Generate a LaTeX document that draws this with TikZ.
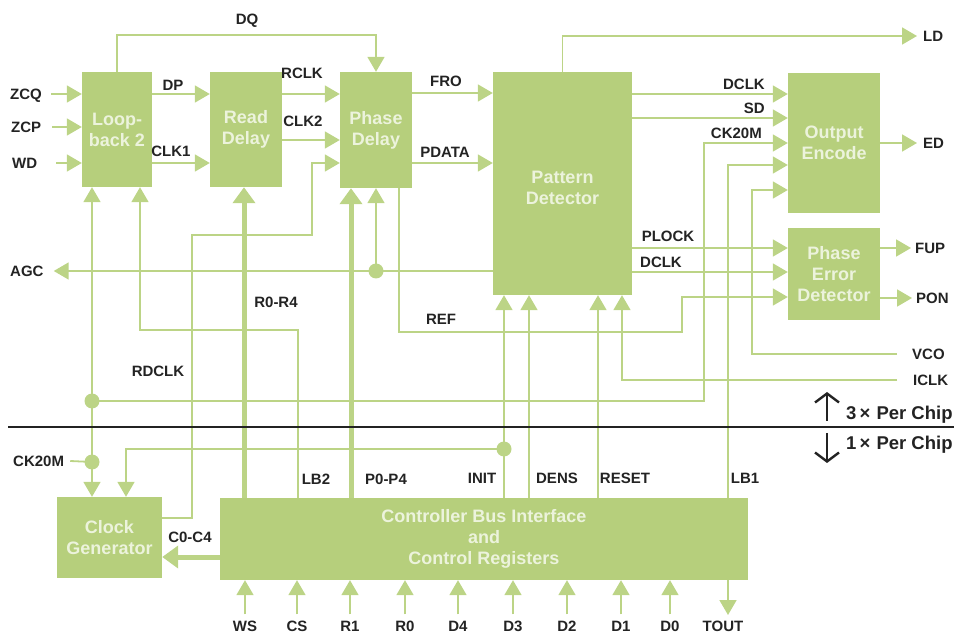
\documentclass[tikz,border=0pt]{standalone}
\usepackage{fontspec}
\setmainfont{Liberation Sans}
\usetikzlibrary{arrows.meta,calc}
\definecolor{boxg}{RGB}{182,207,124}
\definecolor{lineg}{RGB}{188,212,134}
\definecolor{boxt}{RGB}{236,243,220}
\definecolor{labt}{RGB}{35,35,35}
\begin{document}
\begin{tikzpicture}[x=1pt,y=-1pt,
  blk/.style={fill=boxg, text=boxt, font=\bfseries\fontsize{18}{21}\selectfont, align=center, inner sep=0pt},
  lbl/.style={text=labt, font=\bfseries\fontsize{15}{18}\selectfont, inner sep=0pt, text height=10.8pt, text depth=0pt},
  con/.style={draw=lineg, line width=1.8pt},
  arr/.style={con, -{Triangle[length=15pt,width=17pt]}},
  bus/.style={draw=lineg, line width=5pt, -{Triangle[length=16pt,width=22pt]}},
  dotn/.style={circle, fill=lineg, minimum size=15pt, inner sep=0pt},
  chip/.style={text=labt, font=\bfseries\fontsize{18.5}{21}\selectfont, inner sep=0pt, text height=13.2pt, text depth=0pt, anchor=west},
  bigarr/.style={draw=labt, line width=2.4pt, -{Straight Barb[length=9pt,width=24pt]}}
]
\useasboundingbox (0,0) rectangle (954,636);

% blocks
\node[blk, minimum width=70pt, minimum height=115pt] (lb) at (117,129.5) {Loop-\\back 2};
\node[blk, minimum width=72pt, minimum height=115pt] (rd) at (246,129.5) {Read\\Delay};
\node[blk, minimum width=72pt, minimum height=116pt] (pd) at (376,130) {Phase\\Delay};
\node[blk, minimum width=139pt, minimum height=223pt] (pat) at (562.5,183.5) {};
\node[blk] (patt) at (562.5,188) {Pattern\\Detector};
\node[blk, minimum width=92pt, minimum height=140pt] (oe) at (834,143) {Output\\Encode};
\node[blk, minimum width=92pt, minimum height=92pt] (ped) at (834,274) {Phase\\Error\\Detector};
\node[blk, minimum width=105pt, minimum height=81pt] (cg) at (109.5,537.5) {Clock\\Generator};
\node[blk, minimum width=528pt, minimum height=82pt] (cbi) at (484,539) {Controller Bus Interface\\and\\Control Registers};

% left inputs
\node[lbl, anchor=west] (zcq) at (10,94) {ZCQ};
\node[lbl, anchor=west] (zcp) at (11,127) {ZCP};
\node[lbl, anchor=west] (wd) at (12,163) {WD};
\draw[arr] ([xshift=9pt]zcq.east) -- (lb.west |- zcq.east);
\draw[arr] ([xshift=11pt]zcp.east) -- (lb.west |- zcp.east);
\draw[arr] ([xshift=19pt]wd.east) -- (lb.west |- wd.east);

% loop-back -> read delay
\draw[arr] (lb.east |- 0,94) -- (rd.west |- 0,94);
\node[lbl] (dp) at (173,85) {DP};
\draw[arr] (lb.east |- 0,163) -- (rd.west |- 0,163);
\node[lbl] (clk1) at (171,151) {CLK1};

% read delay -> phase delay
\draw[arr] (rd.east |- 0,94) -- (pd.west |- 0,94);
\node[lbl] (rclk) at (302,73) {RCLK};
\draw[arr] (rd.east |- 0,140) -- (pd.west |- 0,140);
\node[lbl] (clk2) at (303,121) {CLK2};

% DQ
\draw[arr] (lb.north) -- (117,35) -| (pd.north);
\node[lbl] (dq) at (247,19) {DQ};

% phase delay -> pattern detector
\draw[arr] (pd.east |- 0,93) -- (pat.west |- 0,93);
\node[lbl] (fro) at (446,81) {FRO};
\draw[arr] (pd.east |- 0,163) -- (pat.west |- 0,163);
\node[lbl] (pdata) at (445,152) {PDATA};

% LD
\node[lbl, anchor=west] (ld) at (923,36) {LD};
\draw[arr] (pat.north) |- ([xshift=-6pt]ld.west);

% pattern detector -> output encode
\draw[arr] (pat.east |- 0,94) -- (oe.west |- 0,94);
\node[lbl, anchor=east] (dclka) at (765,84) {DCLK};
\draw[arr] (pat.east |- 0,118) -- (oe.west |- 0,118);
\node[lbl, anchor=east] (sd) at (765,108) {SD};
\node[lbl, anchor=east] (cka) at (762,133) {CK20M};

% ED
\node[lbl, anchor=west] (ed) at (923,143) {ED};
\draw[arr] (oe.east) -- ([xshift=-6pt]ed.west);

% pattern detector -> phase error detector
\draw[arr] (pat.east |- 0,248) -- (ped.west |- 0,248);
\node[lbl] (plock) at (668,236) {PLOCK};
\draw[arr] (pat.east |- 0,272) -- (ped.west |- 0,272);
\node[lbl] (dclkb) at (661,262) {DCLK};

% FUP, PON
\node[lbl, anchor=west] (fup) at (915,248) {FUP};
\draw[arr] (ped.east |- fup.west) -- ([xshift=-4pt]fup.west);
\node[lbl, anchor=west] (pon) at (916,298) {PON};
\draw[arr] (ped.east |- pon.west) -- ([xshift=-4pt]pon.west);

% REF
\draw[arr] (pd.south -| 399,0) -- (399,332) -| (682,297) -- (ped.west |- 0,297);
\node[lbl] (ref) at (441,319) {REF};

% VCO
\node[lbl, anchor=west] (vco) at (912,354) {VCO};
\draw[arr] ([xshift=-15pt]vco.west) -| (752,190) -- (oe.west |- 0,190);

% ICLK
\node[lbl, anchor=west] (iclk) at (913,380) {ICLK};
\draw[arr] ([xshift=-16pt]iclk.west) -| (pat.south -| 622,0);

% AGC
\node[lbl, anchor=west] (agc) at (10,271) {AGC};
\draw[arr] (pat.west |- agc.east) -- ([xshift=10pt]agc.east);

% dots
\node[dotn] (d1) at (92,401) {};
\node[dotn] (d2) at (92,462) {};
\node[dotn] (d3) at (376,271) {};
\node[dotn] (d4) at (504,449) {};

\draw[arr] (d3.center) -- (pd.south -| d3);

% CK20M distribution
\node[lbl, anchor=west] (ckb) at (13,461) {CK20M};
\draw[con] ([xshift=6pt]ckb.east) -- (d2.center);
\draw[arr] (d2.center) -- (lb.south -| d2);
\draw[arr] (d2.center) -- (cg.north -| d2);
\draw[arr] (d1.center) -- (704,401) |- (oe.west |- 0,143);
\node[lbl] (rdclk) at (158,371) {RDCLK};

% LB1 / TOUT
\draw[arr] (cbi.north -| 728,0) |- (oe.west |- 0,165);
\node[lbl] (lb1) at (745,478) {LB1};
\draw[arr] (cbi.south -| 728,0) -- (728,615);
\node[lbl] (tout) at (723,626) {TOUT};

% INIT, DENS, RESET
\draw[arr] (cbi.north -| d4) -- (pat.south -| d4);
\draw[arr] (d4.center) -- (126,449) -- (cg.north -| 126,0);
\draw[arr] (cbi.north -| 529,0) -- (pat.south -| 529,0);
\draw[arr] (cbi.north -| 598,0) -- (pat.south -| 598,0);
\node[lbl] (init) at (482,478) {INIT};
\node[lbl] (dens) at (557,478) {DENS};
\node[lbl] (reset) at (625,478) {RESET};

% LB2
\draw[arr] (cbi.north -| 298,0) |- (140,330) -- (lb.south -| 140,0);
\node[lbl] (lb2) at (316,479) {LB2};

% clock generator -> phase delay
\draw[arr] (cg.east |- 0,518) -- (192,518) |- (312,235) |- (pd.west |- 0,163);

% buses
\draw[bus] (cbi.north -| 244,0) -- (rd.south -| 244,0);
\draw[bus] (cbi.north -| 351,0) -- (pd.south -| 351,0);
\draw[bus] (cbi.west |- 0,557) -- (cg.east |- 0,557);
\node[lbl] (r04) at (276,302) {R0-R4};
\node[lbl] (p04) at (386,479) {P0-P4};
\node[lbl] (c04) at (190,537) {C0-C4};

% bottom inputs
\foreach \x/\t/\n in {245/WS/ws, 297/CS/cs, 350/R1/ra, 405/R0/rb, 458/D4/dd, 513/D3/dc, 567/D2/db, 621/D1/da, 670/D0/dz}{
  \node[lbl] (\n) at (\x,626) {\t};
  \draw[arr] ([yshift=6pt]\n.north) -- (cbi.south -| \n.north);
}

% divider
\draw[draw=labt, line width=1.3pt] (8,427) -- (954,427);
\draw[bigarr] (827,421) -- (827,392);
\node[chip] (c3) at (846,413) {3\,×\,\,Per Chip};
\draw[bigarr] (827,433) -- (827,463);
\node[chip] (c1) at (846,443) {1\,×\,\,Per Chip};
\end{tikzpicture}
\end{document}
